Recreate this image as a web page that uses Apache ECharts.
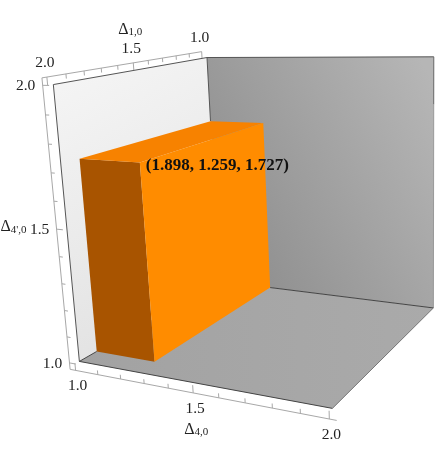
<!DOCTYPE html>
<html>
<head>
<meta charset="utf-8">
<style>
  html, body { margin: 0; background: #fff; }
  #chart { width: 442px; height: 464px; }
</style>
</head>
<body>
<div id="chart"></div>
<script src="https://cdn.jsdelivr.net/npm/echarts@6/dist/echarts.min.js"></script>
<script>
// region corner, in the order (delta4, delta1, delta4')
const boxCorner = [1.259, 1.898, 1.727];
const pointLabel = '(1.898, 1.259, 1.727)';
const axisMin = 1;
const axisMax = 2;
const tickValues = [1, 1.1, 1.2, 1.3, 1.4, 1.5, 1.6, 1.7, 1.8, 1.9, 2];
const tickLabels = { 1: '1.0', 1.5: '1.5', 2: '2.0' };

const PAD = 0.025;    // bounding box padding around the walls
const MAJOR = 0.028;
const MINOR = 0.016;

// camera, fitted once against the wall and box corners
const CAM = {
  x: [166.79, -155.60, -23.87, 219.29],
  y: [-6.86, 8.82, -226.90, 281.21],
  w: [-0.1091, -0.1975, -0.0559, 1]
};

// 3d (d4, d1, d4p) -> plane of the hidden cartesian grid
const project = (p) => {
  const a = p[0] - 1, b = p[1] - 1, c = p[2] - 1;
  const dot = (m) => m[0] * a + m[1] * b + m[2] * c + m[3];
  const w = dot(CAM.w);
  return [dot(CAM.x) / w, dot(CAM.y) / w];
};

const lo = axisMin, hi = axisMax;
const [bx, by, bz] = boxCorner;

const grad = (x, y, x2, y2, from, to) =>
  new echarts.graphic.LinearGradient(x, y, x2, y2, [{ offset: 0, color: from }, { offset: 1, color: to }]);

const faces = [
  // left wall
  { pts: [[lo, lo, lo], [lo, hi, lo], [lo, hi, hi], [lo, lo, hi]], fill: grad(0, 0, 1, 1, '#f6f6f6', '#dfdfdf') },
  // back wall
  { pts: [[lo, lo, lo], [hi, lo, lo], [hi, lo, hi], [lo, lo, hi]], fill: grad(0, 0.6, 1, 0.1, '#8f8f8f', '#b6b6b6') },
  // floor
  { pts: [[lo, lo, lo], [hi, lo, lo], [hi, hi, lo], [lo, hi, lo]], fill: grad(0, 0, 1, 0, '#a2a2a2', '#aaaaaa') },
  // box faces
  { pts: [[lo, by, lo], [bx, by, lo], [bx, by, bz], [lo, by, bz]], fill: '#a85400' },
  { pts: [[lo, lo, bz], [bx, lo, bz], [bx, by, bz], [lo, by, bz]], fill: '#f78200' },
  { pts: [[bx, lo, lo], [bx, by, lo], [bx, by, bz], [bx, lo, bz]], fill: '#ff8c00' }
];

const edges = [
  { a: [lo, hi, hi], b: [lo, lo, hi], color: '#555', width: 1 },
  { a: [lo, hi, hi], b: [lo, hi, lo], color: '#555', width: 1 },
  { a: [lo, lo, hi], b: [hi, lo, hi], color: '#555', width: 1 },
  { a: [lo, lo, hi], b: [lo, lo, bz], color: '#555', width: 1 },
  { a: [hi, lo, hi], b: [hi, lo, 1.82], color: '#666', width: 1 },
  { a: [hi, lo, 1.82], b: [hi, lo, lo], color: '#999', width: 1 },
  { a: [bx, lo, lo], b: [hi, lo, lo], color: '#444', width: 1 },
  { a: [lo, hi, lo], b: [hi, hi, lo], color: '#444', width: 1 },
  { a: [hi, hi, lo], b: [hi, lo, lo], color: '#777', width: 1 },
  { a: [lo, hi, lo], b: [lo, by, lo], color: '#444', width: 1 }
];

// axis lines and ticks sit on the padded bounding box
const AXIS_COLOR = '#a8a8a8';
const axes = [
  { at: (v) => [v, hi + PAD, lo - PAD], dir: [0, 0, 1], ends: [lo - PAD, hi + PAD], off: [2, 16] },
  { at: (v) => [lo - PAD, v, hi + PAD], dir: [0, 0, -1], ends: [hi + PAD, lo], off: [-2, -14] },
  { at: (v) => [lo - PAD, hi + PAD, v], dir: [1, 0, 0], ends: [lo - PAD, hi + PAD], off: [-17, 1] }
];

const axisLines = [];
const tickTexts = [];
axes.forEach((axis) => {
  axisLines.push({ a: axis.at(axis.ends[0]), b: axis.at(axis.ends[1]), color: AXIS_COLOR, width: 1 });
  tickValues.forEach((v) => {
    const p = axis.at(v);
    const len = tickLabels[v] ? MAJOR : MINOR;
    axisLines.push({
      a: p,
      b: [p[0] + axis.dir[0] * len, p[1] + axis.dir[1] * len, p[2] + axis.dir[2] * len],
      color: AXIS_COLOR,
      width: 1
    });
    if (tickLabels[v]) tickTexts.push({ p, off: axis.off, text: tickLabels[v] });
  });
});

const TICK_FONT = '15.5px "Liberation Serif"';
const titleRich = {
  d: { font: '16px "Liberation Serif"', fill: '#222' },
  s: { font: '11px "Liberation Serif"', fill: '#222', verticalAlign: 'bottom', padding: [5, 0, 0, 0] }
};
const axisTitles = [
  { p: axes[0].at(1.5), off: [3, 37], text: '{d|Δ}{s|4,0}' },
  { p: axes[1].at(1.5), off: [-3, -33], text: '{d|Δ}{s|1,0}' },
  { p: axes[2].at(1.5), off: [-43, -2], text: "{d|Δ}{s|4',0}" }
];

const indexData = (list) => list.map((_, i) => [i, i]);

function lineItem(l, api) {
  const s = api.coord(project(l.a));
  const e = api.coord(project(l.b));
  return {
    type: 'line',
    shape: { x1: s[0], y1: s[1], x2: e[0], y2: e[1] },
    style: { stroke: l.color, lineWidth: l.width }
  };
}

function faceItem(face, api) {
  return {
    type: 'polygon',
    shape: { points: face.pts.map((p) => api.coord(project(p))) },
    style: { fill: face.fill, stroke: null }
  };
}

const option = {
  animation: false,
  backgroundColor: '#fff',
  grid: { left: 0, right: 0, top: 0, bottom: 0 },
  xAxis: { type: 'value', min: 0, max: 442, show: false },
  yAxis: { type: 'value', min: 0, max: 464, inverse: true, show: false },
  series: [
    {
      type: 'custom',
      silent: true,
      data: indexData(axisLines),
      renderItem: (params, api) => lineItem(axisLines[params.dataIndex], api)
    },
    {
      type: 'custom',
      silent: true,
      data: indexData(faces.slice(0, 3)),
      z: 3,
      renderItem: (params, api) => faceItem(faces[params.dataIndex], api)
    },
    {
      type: 'custom',
      silent: true,
      data: indexData(edges),
      z: 4,
      renderItem: (params, api) => lineItem(edges[params.dataIndex], api)
    },
    {
      type: 'custom',
      silent: true,
      data: indexData(faces.slice(3)),
      z: 5,
      renderItem: (params, api) => faceItem(faces[params.dataIndex + 3], api)
    },
    {
      // tick labels
      type: 'custom',
      silent: true,
      data: indexData(tickTexts),
      z: 6,
      renderItem: (params, api) => {
        const t = tickTexts[params.dataIndex];
        const c = api.coord(project(t.p));
        return {
          type: 'text',
          style: {
            x: c[0] + t.off[0], y: c[1] + t.off[1], text: t.text,
            font: TICK_FONT, fill: '#222', align: 'center', verticalAlign: 'middle'
          }
        };
      }
    },
    {
      // axis titles
      type: 'custom',
      silent: true,
      data: indexData(axisTitles),
      z: 6,
      renderItem: (params, api) => {
        const t = axisTitles[params.dataIndex];
        const c = api.coord(project(t.p));
        return {
          type: 'text',
          style: {
            x: c[0] + t.off[0], y: c[1] + t.off[1], text: t.text, rich: titleRich,
            align: 'center', verticalAlign: 'middle'
          }
        };
      }
    },
    {
      // point label
      type: 'custom',
      silent: true,
      data: [[0, 0]],
      z: 7,
      renderItem: (params, api) => {
        const c = api.coord(project(boxCorner));
        return {
          type: 'text',
          style: {
            x: c[0] + 6, y: c[1] + 3, text: pointLabel,
            font: 'bold 17px "Liberation Serif"', fill: '#111', align: 'left', verticalAlign: 'middle'
          }
        };
      }
    }
  ]
};

const chart = echarts.init(document.getElementById('chart'));
chart.setOption(option);
</script>
</body>
</html>
